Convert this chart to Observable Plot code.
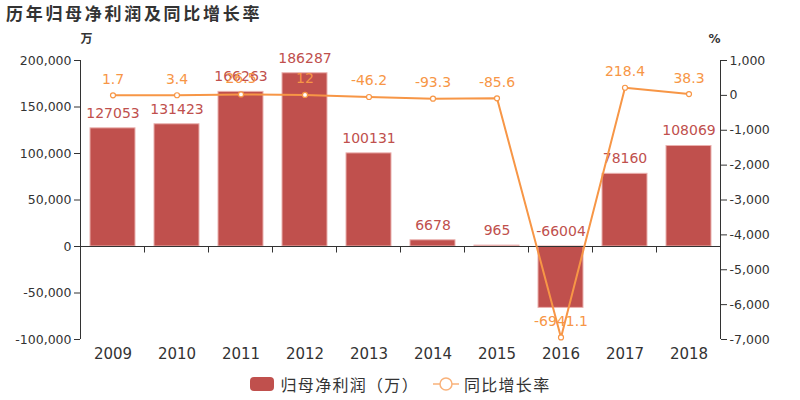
<!DOCTYPE html>
<html><head><meta charset="utf-8">
<script src="https://cdn.jsdelivr.net/npm/d3@7"></script>
<script src="https://cdn.jsdelivr.net/npm/@observablehq/plot@0.6"></script>
<style>
body{margin:0;background:#fff;font-family:"DejaVu Sans","Noto Sans CJK SC",sans-serif;width:800px;height:400px;overflow:hidden;}
#title{height:28px;line-height:26px;padding-left:6px;font-size:17px;font-weight:bold;color:#333;font-family:"Noto Sans CJK SC","DejaVu Sans",sans-serif;letter-spacing:2.7px;}
#chart svg{display:block;overflow:visible;}
#legend{height:32px;display:flex;justify-content:center;align-items:center;font-size:16px;letter-spacing:1.3px;color:#333;font-family:"Noto Sans CJK SC","DejaVu Sans",sans-serif;}
.sw{display:inline-block;width:24px;height:14px;border-radius:4px;background:#c0504d;margin-right:7px;}
.item{display:flex;align-items:center;}
</style></head><body>
<div id="title">历年归母净利润及同比增长率</div>
<div id="chart"></div>
<div id="legend">
  <div class="item" style="margin-right:14px"><span class="sw"></span><span>归母净利润（万）</span></div>
  <div class="item"><svg width="26" height="16" style="margin-right:5px"><line x1="0" y1="8" x2="26" y2="8" stroke="#f9b27a" stroke-width="1.5"/><circle cx="13" cy="8" r="6" fill="#fff" stroke="#f9b27a" stroke-width="1.5"/></svg><span>同比增长率</span></div>
</div>
<script>
const years = ["2009","2010","2011","2012","2013","2014","2015","2016","2017","2018"];
const profit = [127053, 131423, 166263, 186287, 100131, 6678, 965, -66004, 78160, 108069];
const growth = [1.7, 3.4, 26.5, 12, -46.2, -93.3, -85.6, -6941.1, 218.4, 38.3];
const leftTicks = [-100000, -50000, 0, 50000, 100000, 150000, 200000];
const rightTicks = [-7000, -6000, -5000, -4000, -3000, -2000, -1000, 0, 1000];

const leftDomain = [-100000, 200000];
const rightDomain = [-7000, 1000];
const toY = g => leftDomain[0] + (g - rightDomain[0]) * (leftDomain[1] - leftDomain[0]) / (rightDomain[1] - rightDomain[0]);
const fromY = y => rightDomain[0] + (y - leftDomain[0]) * (rightDomain[1] - rightDomain[0]) / (leftDomain[1] - leftDomain[0]);
const fmt = v => (v < 0 ? "-" : "") + d3.format(",")(Math.abs(Math.round(v)));

const data = years.map((y, i) => ({year: y, profit: profit[i], growth: growth[i], gy: toY(growth[i])}));

const RED = "#c0504d", ORANGE = "#f79646", INK = "#333";
const padInner = 0.3;

function axisLines(index, scales, values, dims) {
  const x = scales.x, y = scales.y;
  const step = x(years[1]) - x(years[0]);
  const g = d3.create("svg:g").attr("stroke", INK).attr("stroke-width", 1).attr("fill", "none");
  const y0 = Math.round(y(0)) + 0.5;
  const left = dims.marginLeft + 0.5, right = dims.width - dims.marginRight + 0.5;
  g.append("line").attr("x1", left).attr("x2", left).attr("y1", dims.marginTop).attr("y2", dims.height - dims.marginBottom);
  g.append("line").attr("x1", right).attr("x2", right).attr("y1", dims.marginTop).attr("y2", dims.height - dims.marginBottom);
  g.append("line").attr("x1", left).attr("x2", right).attr("y1", y0).attr("y2", y0);
  years.forEach(yr => {
    const bx = Math.round(x(yr) - step * padInner / 2) + 0.5;
    g.append("line").attr("x1", bx).attr("x2", bx).attr("y1", y0).attr("y2", y0 + 6);
  });
  const bxEnd = Math.round(x(years[years.length - 1]) + step * (1 - padInner / 2)) + 0.5;
  g.append("line").attr("x1", bxEnd).attr("x2", bxEnd).attr("y1", y0).attr("y2", y0 + 6);
  return g.node();
}

const chart = Plot.plot({
  width: 800,
  height: 340,
  marginLeft: 80,
  marginRight: 80,
  marginTop: 32,
  marginBottom: 29,
  style: {fontFamily: '"DejaVu Sans","Noto Sans CJK SC",sans-serif', color: INK, background: "#fff"},
  x: {domain: years, paddingInner: padInner, paddingOuter: padInner / 2, label: null},
  y: {domain: leftDomain, label: null},
  marks: [
    Plot.barY(data, {x: "year", y: "profit", fill: RED, stroke: "#eab0ae", strokeWidth: 1}),
    axisLines,
    Plot.axisY({anchor: "left", ticks: leftTicks, tickFormat: fmt, tickSize: 6, tickPadding: 3, fontSize: 12.5, stroke: INK, fill: INK, label: null}),
    Plot.axisY({anchor: "right", ticks: rightTicks.map(toY), tickFormat: d => fmt(fromY(d)), tickSize: 6, tickPadding: 3, fontSize: 12.5, stroke: INK, fill: INK, label: null}),
    Plot.axisX({anchor: "bottom", tickSize: 0, tickPadding: 9, fontSize: 15, fill: INK, label: null}),
    Plot.text(data, {x: "year", y: d => Math.max(d.profit, 0), text: d => String(d.profit), dy: -15, fill: RED, fontSize: 14}),
    Plot.line(data, {x: "year", y: "gy", stroke: ORANGE, strokeWidth: 2}),
    Plot.dot(data, {x: "year", y: "gy", r: 2.5, fill: "#fff", stroke: ORANGE, strokeWidth: 1.2}),
    Plot.text(data, {x: "year", y: "gy", text: d => String(d.growth), dy: -16, fill: ORANGE, fontSize: 14}),
    Plot.text(["万"], {frameAnchor: "top-left", text: d => d, dy: -26, fontSize: 12, fontWeight: "bold", fill: INK, fontFamily: '"Noto Sans CJK SC",sans-serif'}),
    Plot.text(["%"], {frameAnchor: "top-right", text: d => d, dy: -26, fontSize: 12, fontWeight: "bold", fill: INK})
  ]
});
document.getElementById("chart").appendChild(chart);
</script>
</body></html>
